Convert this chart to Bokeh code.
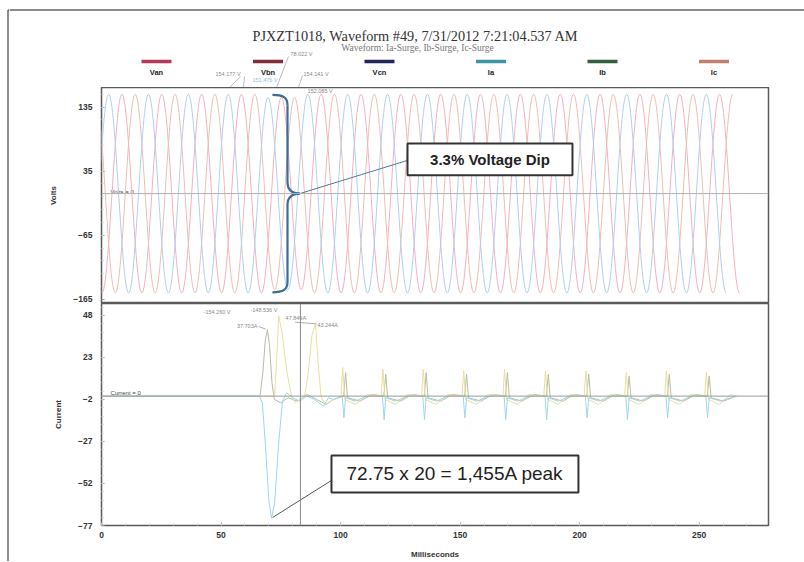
import numpy as np
from bokeh.plotting import figure
from bokeh.layouts import column, row
from bokeh.models import Range1d, FixedTicker, Label, Span, ColumnDataSource
from bokeh.core.properties import value
from bokeh.embed import file_html
from bokeh.resources import INLINE

# ---------------- data ----------------
title_text = "PJXZT1018, Waveform #49, 7/31/2012 7:21:04.537 AM"
subtitle_text = "Waveform: Ia-Surge, Ib-Surge, Ic-Surge"
legend_names = ["Van", "Vbn", "Vcn", "Ia", "Ib", "Ic"]
time_ticks = [0, 50, 100, 150, 200, 250]
volt_ticks = [135, 35, -65, -165]
amp_ticks = [48, 23, -2, -27, -52, -77]

# voltage: time of first extremum (ms), its sign, and successive half-cycle peak magnitudes (V)
half_cycle_ms = 8.333
van_first_ms, van_first_sign = -8.11, 1
vbn_first_ms, vbn_first_sign = -2.56, 1
vcn_first_ms, vcn_first_sign = -5.33, -1
van_peaks = [155, 155, 155, 155, 155, 155, 155, 155, 155, 155, 150, 150,
             155, 155, 155, 155, 155, 155, 155, 155, 155, 155, 155,
             155, 155, 155, 155, 155, 155, 155, 155, 155, 155, 155]
vbn_peaks = [155, 155, 155, 155, 155, 155, 155, 155, 155, 150, 150,
             155, 155, 155, 155, 155, 155, 155, 155, 155, 155, 155,
             155, 155, 155, 155, 155, 155, 155, 155, 155, 155, 155]
vcn_peaks = [155, 155, 155, 155, 155, 155, 155, 155, 155, 150, 150,
             155, 155, 155, 155, 155, 155, 155, 155, 155, 155, 155,
             155, 155, 155, 155, 155, 155, 155, 155, 155, 155, 155]

# currents: (ms, A) points
ia_points = [
    (0, 0), (66.0, 0), (67.3, -4), (68.6, -30), (70.0, -62), (71.1, -72.75), (72.4, -64), (74.0, -30), (75.7, -3),
    (77.5, 2), (80.0, -1), (83.0, -3), (86.0, 0), (89.0, -2), (92.8, -6), (95.0, -1), (97.0, -2),
    (100.7, 0), (101.4, -13), (102.1, -1), (106.0, -3), (111.0, 0),
    (117.5, 0), (118.2, -14), (118.9, -1), (123.0, -3), (128.0, 0),
    (134.4, 0), (135.1, -14), (135.8, -1), (140.0, -3), (145.0, 0),
    (151.3, 0), (152.0, -13), (152.7, -1), (157.0, -3), (162.0, 0),
    (168.4, 0), (169.1, -14), (169.8, -1), (174.0, -3), (179.0, 0),
    (185.5, 0), (186.2, -14), (186.9, -1), (191.0, -3), (196.0, 0),
    (202.4, 0), (203.1, -13), (203.8, -1), (208.0, -3), (213.0, 0),
    (219.3, 0), (220.0, -14), (220.7, -1), (225.0, -3), (230.0, 0),
    (236.1, 0), (236.8, -13), (237.5, -1), (242.0, -3), (247.0, 0),
    (252.8, 0), (253.5, -13), (254.2, -1), (259.0, -3), (265.5, 0),
]
ib_points = [
    (0, 0), (66.3, 0), (67.5, 14), (68.5, 33), (69.4, 39.6), (70.3, 30), (71.3, 8), (72.3, -2),
    (75.0, -4), (78.0, -1), (82.0, -3), (86.0, 1), (90.0, -2), (94.0, -5), (97.0, -2),
    (101.3, 0), (102.1, 14), (102.9, -1), (108.2, -3), (113.2, 1),
    (118.1, 0), (118.9, 13), (119.7, -1), (125.0, -3), (130.0, 1),
    (135.0, 0), (135.8, 14), (136.6, -1), (141.9, -3), (146.9, 1),
    (151.9, 0), (152.7, 13), (153.5, -1), (158.8, -3), (163.8, 1),
    (169.0, 0), (169.8, 14), (170.6, -1), (175.9, -3), (180.9, 1),
    (186.1, 0), (186.9, 13), (187.7, -1), (193.0, -3), (198.0, 1),
    (203.0, 0), (203.8, 13), (204.6, -1), (209.9, -3), (214.9, 1),
    (219.9, 0), (220.7, 12), (221.5, -1), (226.8, -3), (231.8, 1),
    (236.7, 0), (237.5, 13), (238.3, -1), (243.6, -3), (248.6, 1),
    (253.4, 0), (254.2, 12), (255.0, -1), (260.3, -3), (265.5, 0),
]
ic_points = [
    (0, 0), (72.4, 0), (73.3, 22), (74.1, 47.8), (75.5, 38), (77.5, 15), (79.5, 0), (81.0, -4), (83.0, -2),
    (85.0, 0), (86.5, 14), (88.0, 36), (89.5, 43.2), (90.6, 20), (91.8, 0), (93.5, -5), (96.0, -3),
    (100.2, 0), (100.9, 17), (101.8, -2), (106.2, -5), (111.2, 1),
    (117.0, 0), (117.7, 16), (118.6, -2), (123.0, -5), (128.0, 1),
    (133.9, 0), (134.6, 16), (135.5, -2), (139.9, -5), (144.9, 1),
    (150.8, 0), (151.5, 15), (152.4, -2), (156.8, -5), (161.8, 1),
    (167.9, 0), (168.6, 16), (169.5, -2), (173.9, -5), (178.9, 1),
    (185.0, 0), (185.7, 15), (186.6, -2), (191.0, -5), (196.0, 1),
    (201.9, 0), (202.6, 15), (203.5, -2), (207.9, -5), (212.9, 1),
    (218.8, 0), (219.5, 14), (220.4, -2), (224.8, -5), (229.8, 1),
    (235.6, 0), (236.3, 15), (237.2, -2), (241.6, -5), (246.6, 1),
    (252.3, 0), (253.0, 14), (253.9, -2), (258.3, -5), (263.3, 1), (265.5, 0),
]
dip_pct = 3.3
ia_peak = 72.75
ct_ratio = 20
trigger_ms = 83.2

# ---------------- style / layout ----------------
SANS = "Liberation Sans"
SERIF = "Liberation Serif"
legend_colors = ["#b23a5c", "#7e2f3a", "#23245a", "#3f93a3", "#355f42", "#c08070"]
trace_colors = {"Van": "#f4b0be", "Vbn": "#efbdb2", "Vcn": "#b0cfee",
                "Ia": "#9fd6ea", "Ib": "#b8bba6", "Ic": "#e8df9c"}
PAGE_W = 804
STRIP = 9                  # left page-edge strip
W = PAGE_W - STRIP
LEFT, RIGHT = 92, 36
H_HEAD, H_V, H_C = 87, 216, 258
H_TOTAL = H_HEAD + H_V + H_C

x_rng = Range1d(0, 279)


def style_axis(ax, label):
    ax.axis_label = label
    ax.major_label_text_font = SANS
    ax.major_label_text_font_size = "8.5px"
    ax.major_label_text_font_style = "bold"
    ax.major_label_text_color = "#333333"
    ax.axis_label_text_font = SANS
    ax.axis_label_text_font_size = "8px"
    ax.axis_label_text_font_style = "bold"
    ax.axis_label_text_color = "#333333"
    ax.axis_line_color = None
    ax.major_tick_in = 3
    ax.major_tick_out = 0
    ax.minor_tick_in = 2
    ax.minor_tick_out = 0
    ax.major_tick_line_color = "#999999"
    ax.minor_tick_line_color = "#cccccc"


def panel(height, yr, bottom_border):
    p = figure(width=W, height=height, x_range=x_rng, y_range=yr,
               output_backend="svg", toolbar_location=None,
               x_axis_location="below" if bottom_border else None,
               min_border_left=LEFT, min_border_right=RIGHT,
               min_border_top=0, min_border_bottom=bottom_border)
    p.grid.visible = False
    p.outline_line_color = "#5a5a5a"
    p.outline_line_width = 1.5
    p.background_fill_color = "white"
    p.border_fill_color = "white"
    return p


def small_text(p, x, y, txt, color="#888888", size="5.5px", align="left"):
    p.text(x=[x], y=[y], text=[txt], text_font=value(SANS), text_font_size=value(size),
           text_color=color, text_align=align, text_baseline="middle")


# ---------------- left page edge ----------------
strip = figure(width=STRIP, height=H_TOTAL, x_range=Range1d(0, STRIP), y_range=Range1d(H_TOTAL, 0),
               output_backend="svg", toolbar_location=None,
               x_axis_location=None, y_axis_location=None, min_border=0)
strip.frame_align = False
strip.outline_line_color = None
strip.grid.visible = False
strip.segment(x0=[7.5, 7.5], y0=[9.5, 9.5], x1=[7.5, STRIP], y1=[H_TOTAL, 9.5],
              line_color="#666666", line_width=1.5)

# ---------------- header ----------------
ph = figure(width=W, height=H_HEAD, x_range=Range1d(STRIP, PAGE_W), y_range=Range1d(H_HEAD, 0),
            output_backend="svg", toolbar_location=None,
            x_axis_location=None, y_axis_location=None, min_border=0)
ph.frame_align = False
ph.outline_line_color = None
ph.grid.visible = False
ph.segment(x0=[STRIP], y0=[9.5], x1=[PAGE_W], y1=[9.5], line_color="#666666", line_width=1.5)
ph.text(x=[415], y=[35], text=[title_text], text_font=value(SERIF), text_font_size=value("14.3px"),
        text_color="#333333", text_align="center", text_baseline="middle")
ph.text(x=[417], y=[47], text=[subtitle_text], text_font=value(SERIF), text_font_size=value("9.5px"),
        text_color="#777777", text_align="center", text_baseline="middle")
leg_x = [156, 267.5, 379, 490.5, 602, 713.5]
ph.segment(x0=[c - 15 for c in leg_x], y0=[61] * 6, x1=[c + 15 for c in leg_x], y1=[61] * 6,
           line_color=legend_colors, line_width=3.5)
ph.text(x=leg_x, y=[72] * 6, text=legend_names, text_font=value(SANS), text_font_size=value("7.5px"),
        text_font_style="bold", text_color="#222222", text_align="center", text_baseline="middle")
small_text(ph, 290, 53, "78.022 V")
ph.segment(x0=[288], y0=[56], x1=[276], y1=[87], line_color="#aaaaaa", line_width=0.8)
small_text(ph, 215, 73, "154.177 V")
ph.segment(x0=[240, 244], y0=[76, 76], x1=[229, 243], y1=[87, 87], line_color="#aaaaaa", line_width=0.8)
small_text(ph, 252, 79, "151.476 V", color="#8fc3d6")
small_text(ph, 303, 73, "154.141 V")
ph.segment(x0=[302], y0=[75], x1=[298], y1=[87], line_color="#aaaaaa", line_width=0.8)

# ---------------- voltage panel ----------------
pv = panel(H_V, Range1d(-171.5, 165.5), 0)
pv.yaxis.ticker = FixedTicker(ticks=volt_ticks, minor_ticks=list(range(-145, 166, 20)))
style_axis(pv.yaxis[0], "Volts")
pv.yaxis.major_label_standoff = 9
pv.yaxis.axis_label_standoff = 12
pv.add_layout(Span(location=0, dimension="width", line_color="#b0b0b0", line_width=1))
small_text(pv, 3.8, 2.5, "Volts = 0", color="#444444", size="6px")

k = 0.3634 * half_cycle_ms
for name, t0, s0, mags in [("Van", van_first_ms, van_first_sign, van_peaks),
                           ("Vbn", vbn_first_ms, vbn_first_sign, vbn_peaks),
                           ("Vcn", vcn_first_ms, vcn_first_sign, vcn_peaks)]:
    n = len(mags)
    t = t0 + half_cycle_ms * np.arange(n)
    v = s0 * np.where(np.arange(n) % 2 == 0, 1, -1) * np.array(mags, dtype=float)
    src = ColumnDataSource(dict(x0=t[:-1], y0=v[:-1], x1=t[1:], y1=v[1:],
                                cx0=t[:-1] + k, cy0=v[:-1], cx1=t[1:] - k, cy1=v[1:]))
    pv.bezier(x0="x0", y0="y0", x1="x1", y1="y1", cx0="cx0", cy0="cy0", cx1="cx1", cy1="cy1",
              source=src, line_color=trace_colors[name], line_width=1)

# brace marking the dip
bt0, bsp, btip, btop = 71.5, 77.8, 83.0, 154
brace_col = "#3a6d99"
pv.bezier(x0=[bt0, bsp, btip, bsp], y0=[btop, 18, 0, -btop + 16],
          x1=[bsp, btip, bsp, bt0], y1=[btop - 16, 0, -18, -btop],
          cx0=[bt0 + 4.5, bsp, btip - 3.5, bsp], cy0=[btop, 6, 0, -btop + 4],
          cx1=[bsp, btip - 3.5, bsp, bt0 + 4.5], cy1=[btop - 4, 0, -6, -btop],
          line_color=brace_col, line_width=2.2)
pv.segment(x0=[bsp, bsp], y0=[btop - 16, -18], x1=[bsp, bsp], y1=[18, -btop + 16],
           line_color=brace_col, line_width=2.2)
pv.segment(x0=[btip], y0=[0], x1=[128.0], y1=[51.8], line_color="#4a7a9a", line_width=1)
pv.quad(left=[128.0], right=[197.0], bottom=[28.5], top=[78.2],
        fill_color="white", line_color="#333333", line_width=2)
pv.text(x=[162.5], y=[53.3], text=[f"{dip_pct}% Voltage Dip"], text_font=value(SANS),
        text_font_size=value("15px"), text_font_style="bold", text_color="#222222",
        text_align="center", text_baseline="middle")
small_text(pv, 86.2, 160, "152.085 V")

# ---------------- current panel ----------------
pc = panel(H_C, Range1d(-77, 55.1), H_C - 222)
pc.yaxis.ticker = FixedTicker(ticks=amp_ticks, minor_ticks=list(np.arange(-72, 55, 5)))
style_axis(pc.yaxis[0], "Current")
pc.yaxis.major_label_standoff = 9
pc.yaxis.axis_label_standoff = 12
pc.xaxis.ticker = FixedTicker(ticks=time_ticks, minor_ticks=list(range(0, 280, 10)))
style_axis(pc.xaxis[0], "Milliseconds")
pc.xaxis.major_label_standoff = 6
pc.xaxis.axis_label_standoff = 9

pc.add_layout(Span(location=0, dimension="width", line_color="#999999", line_width=1))
pc.add_layout(Span(location=trigger_ms, dimension="height", line_color="#8a8a8a", line_width=1))
small_text(pc, 3.8, 2, "Current = 0", color="#444444", size="6px")

for name, pts in [("Ib", ib_points), ("Ic", ic_points), ("Ia", ia_points)]:
    pc.line(x=[a for a, b in pts], y=[b for a, b in pts], line_color=trace_colors[name], line_width=1)

small_text(pc, 65.2, 42.0, "37.703A", align="right")
pc.segment(x0=[65.7], y0=[41.4], x1=[68.6], y1=[39.9], line_color="#999999", line_width=0.8)
small_text(pc, 77.0, 46.5, "47.849A")
pc.segment(x0=[81.0], y0=[44.0], x1=[90.0], y1=[43.0], line_color="#999999", line_width=0.8)
small_text(pc, 90.3, 42.4, "43.244A")
small_text(pc, 42.7, 50.0, "-154.260 V")
small_text(pc, 62.3, 51.2, "-148.536 V")

pc.segment(x0=[96.2], y0=[-50.2], x1=[71.6], y1=[-72.2], line_color="#555555", line_width=1)
pc.quad(left=[96.2], right=[199.5], bottom=[-57.4], top=[-35.3],
        fill_color="white", line_color="#333333", line_width=2)
pc.text(x=[147.9], y=[-46.3], text=[f"{ia_peak} x {ct_ratio} = {ia_peak * ct_ratio:,.0f}A peak"],
        text_font=value(SANS), text_font_size=value("19px"), text_color="#222222",
        text_align="center", text_baseline="middle")
pc.add_layout(Label(x=trigger_ms, y=-77, y_offset=-7, text="Trigger", text_font=SANS,
                    text_font_size="6px", text_font_style="bold", text_color="#333333",
                    text_align="center", text_baseline="top"))
pc.add_layout(Label(x=67.8, y=-77, y_offset=-8, text=f"-{ia_peak}8A", text_font=SANS,
                    text_font_size="5.5px", text_color="#aaaaaa",
                    text_align="center", text_baseline="top"))

layout = row(strip, column(ph, pv, pc))
open("out.html", "w").write(file_html(layout, INLINE))
